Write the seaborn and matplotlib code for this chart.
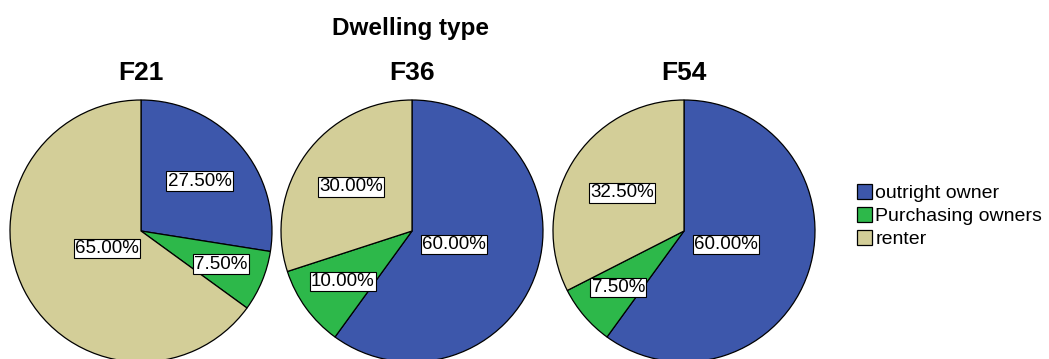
import numpy as np
import matplotlib
matplotlib.use("Agg")
import matplotlib.pyplot as plt
import seaborn as sns
from matplotlib.patches import Patch

sns.set_theme(style="white")
plt.rcParams["font.family"] = ["Liberation Sans", "DejaVu Sans"]
plt.rcParams["text.color"] = "black"

# Data
categories = ["outright owner", "Purchasing owners", "renter"]
groups = ["F21", "F36", "F54"]
f21 = [27.5, 7.5, 65.0]
f36 = [60.0, 10.0, 30.0]
f54 = [60.0, 7.5, 32.5]
series = [f21, f36, f54]

colors = sns.color_palette(["#3D57AB", "#2DB84A", "#D3CE98"])

W, H = 1049, 359
fig = plt.figure(figsize=(W / 100, H / 100), dpi=100)

radius_px = 131
centers_px = [(141, 231), (412, 231), (684, 231)]

for (cx, cy), name, vals in zip(centers_px, groups, series):
    ax = fig.add_axes([(cx - radius_px) / W, (H - cy - radius_px) / H,
                       2 * radius_px / W, 2 * radius_px / H])
    wedges, _ = ax.pie(vals, colors=colors, startangle=90, counterclock=False,
                       radius=1.0,
                       wedgeprops=dict(edgecolor="black", linewidth=0.9))
    ax.set_xlim(-1, 1)
    ax.set_ylim(-1, 1)
    ax.set_aspect("equal")
    ax.axis("off")
    # value labels at each wedge's centroid
    for w, v in zip(wedges, vals):
        t1, t2 = np.deg2rad(w.theta1), np.deg2rad(w.theta2)
        span = t2 - t1
        mid = (t1 + t2) / 2
        r = 4 * np.sin(span / 2) / (3 * span)
        ax.text(r * np.cos(mid), r * np.sin(mid), f"{v:.2f}%",
                ha="center", va="center", fontsize=13.5, color="black",
                bbox=dict(boxstyle="square,pad=0.06", facecolor="white",
                          edgecolor="black", linewidth=0.8))
    fig.text(cx / W, 1 - 73 / H, name, ha="center", va="center",
             fontsize=19, fontweight="bold", color="black")

fig.text(411 / W, 1 - 28 / H, "Dwelling type", ha="center", va="center",
         fontsize=17.5, fontweight="bold", color="black")

handles = [Patch(facecolor=c, edgecolor="black", linewidth=0.9) for c in colors]
leg = fig.legend(handles, categories, loc="center left",
                 bbox_to_anchor=(857 / W, 1 - 216 / H), frameon=False,
                 fontsize=14, handlelength=0.75, handleheight=0.8,
                 handletextpad=0.2, labelspacing=0.25, borderpad=0,
                 borderaxespad=0)
for t in leg.get_texts():
    t.set_color("black")

fig.savefig("out.png", dpi=100)
